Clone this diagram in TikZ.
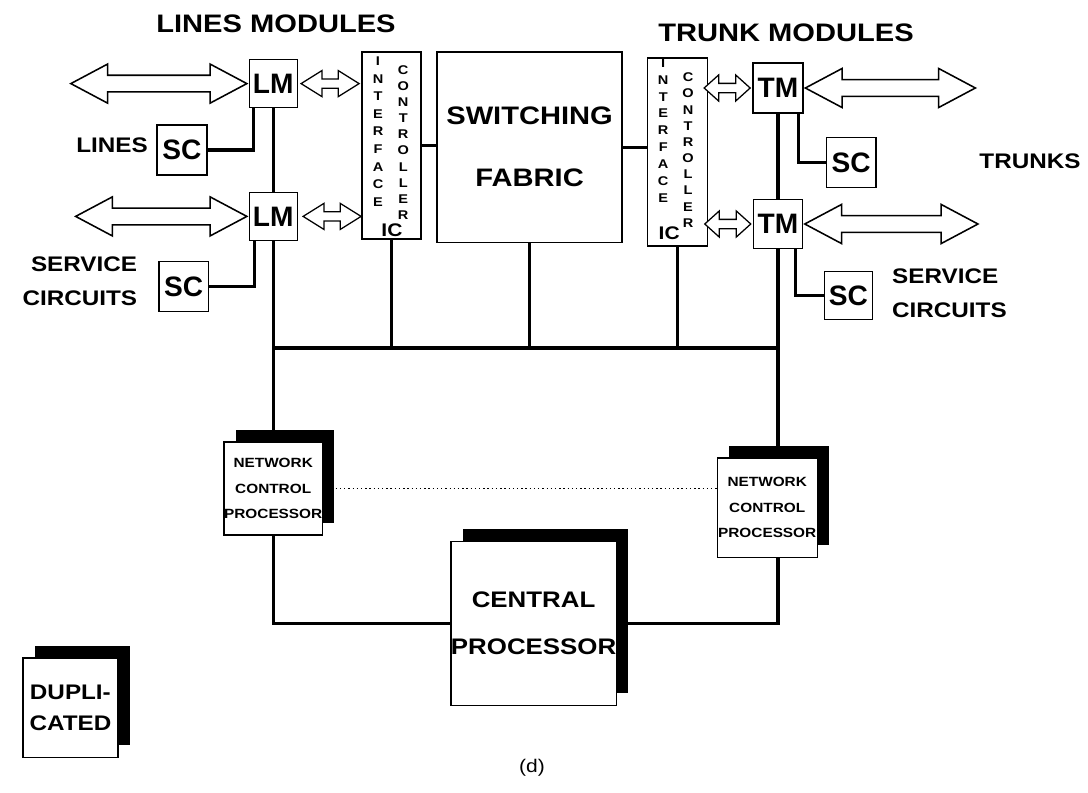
\documentclass[tikz,border=0pt]{standalone}
\usepackage{fontspec}
\setmainfont[FakeStretch=1.15]{Liberation Sans}
\newfontfamily\boxfont{Liberation Sans}
\usetikzlibrary{shapes.arrows, shadows, positioning}

\begin{document}
\begin{tikzpicture}[
    box/.style={rectangle, draw, line width=1pt, fill=white, inner sep=0pt, align=center, font=\bfseries\fontsize{18}{44}\selectfont},
    module/.style={rectangle, draw, line width=1pt, fill=white, inner sep=0pt, minimum size=1.2cm, font=\boxfont\bfseries\fontsize{20}{24}\selectfont},
    proc/.style={rectangle, draw, line width=1pt, fill=white, inner sep=0pt, align=center, general shadow={fill=black, shadow xshift=0.3cm, shadow yshift=0.3cm}},
    bigarrow/.style={double arrow, draw, line width=1.1pt, fill=white, inner xsep=0pt, inner ysep=0.19cm, minimum width=0.95cm, double arrow head extend=0.28cm, double arrow tip angle=56},
    smallarrow/.style={double arrow, draw, line width=0.9pt, fill=white, inner xsep=0pt, inner ysep=0.1cm, minimum width=0.62cm, double arrow head extend=0.21cm, double arrow tip angle=64},
    vlet/.style={align=center, inner sep=0pt, font=\bfseries\fontsize{9}{12.5}\selectfont},
    link/.style={line width=2.2pt},
    lbl/.style={font=\bfseries\fontsize{18}{22}\selectfont},
    sidelbl/.style={font=\bfseries\fontsize{15}{24}\selectfont}
]
    \path[fill=white] (0,0) rectangle (27.2,-19.8);
    \useasboundingbox (0,0) rectangle (27.2,-19.8);

    % Headings
    \node[lbl] (linesmod) at (6.9,-0.6) {LINES MODULES};
    \node[lbl] (trunkmod) at (19.65,-0.83) {TRUNK MODULES};
    \node[sidelbl] (lines) at (2.8,-3.63) {LINES};
    \node[sidelbl] (trunks) at (25.75,-4.03) {TRUNKS};
    \node[sidelbl, anchor=east, align=right] (servl) at (3.55,-7.03) {SERVICE\\CIRCUITS};
    \node[sidelbl, anchor=west, align=left] (servr) at (22.18,-7.33) {SERVICE\\CIRCUITS};

    % Line side
    \node[module] (lm1) at (6.83,-2.09) {LM};
    \node[module] (lm2) at (6.83,-5.41) {LM};
    \node[module, minimum size=1.24cm] (sc1) at (4.55,-3.75) {SC};
    \node[module, minimum size=1.24cm] (sc2) at (4.59,-7.16) {SC};
    \node[bigarrow, minimum height=4.4cm, left=0pt of lm1] (lin1) {};
    \node[bigarrow, minimum height=4.28cm, left=0pt of lm2] (lin2) {};
    \node[smallarrow, minimum height=1.45cm, right=0.05cm of lm1] (lic1) {};
    \node[smallarrow, minimum height=1.45cm, right=0.1cm of lm2] (lic2) {};

    % Interface controllers and fabric
    \node[box, minimum width=1.475cm, minimum height=4.675cm] (icl) at (9.79,-3.64) {};
    \node[vlet] at (9.45,-3.29) {I\\N\\T\\E\\R\\F\\A\\C\\E};
    \node[vlet, font=\bfseries\fontsize{9}{11.5}\selectfont] at (10.08,-3.56) {C\\O\\N\\T\\R\\O\\L\\L\\E\\R};
    \node[font=\bfseries\fontsize{13}{15}\selectfont, inner sep=0pt] (iclname) at (9.8,-5.75) {IC};
    \node[box, minimum width=4.625cm, minimum height=4.75cm] (sf) at (13.24,-3.68) {SWITCHING\\FABRIC};
    \node[box, minimum width=1.5cm, minimum height=4.7cm] (icr) at (16.93,-3.8) {};
    \node[vlet, font=\bfseries\fontsize{9}{12}\selectfont] at (16.58,-3.26) {I\\N\\T\\E\\R\\F\\A\\C\\E};
    \node[vlet, font=\bfseries\fontsize{9}{11.5}\selectfont] at (17.2,-3.75) {C\\O\\N\\T\\R\\O\\L\\L\\E\\R};
    \node[font=\bfseries\fontsize{13}{15}\selectfont, inner sep=0pt] (icrname) at (16.73,-5.83) {IC};

    % Trunk side
    \node[module, minimum size=1.25cm] (tm1) at (19.45,-2.2) {TM};
    \node[module, minimum size=1.22cm] (tm2) at (19.45,-5.6) {TM};
    \node[module, minimum size=1.24cm] (scr1) at (21.28,-4.06) {SC};
    \node[module, minimum size=1.2cm] (scr2) at (21.21,-7.39) {SC};
    \node[bigarrow, minimum height=4.25cm, right=0pt of tm1] (tin1) {};
    \node[bigarrow, minimum height=4.33cm, right=0pt of tm2] (tin2) {};
    \node[smallarrow, double arrow tip angle=84, minimum height=1.15cm, left=0.03cm of tm1] (tic1) {};
    \node[smallarrow, double arrow tip angle=84, minimum height=1.15cm, left=0.03cm of tm2] (tic2) {};

    % Processors (duplicated)
    \node[proc, minimum width=2.3cm, minimum height=2.33cm, font=\bfseries\fontsize{9.5}{18}\selectfont] (ncpl) at (6.83,-12.21) {NETWORK\\CONTROL\\PROCESSOR};
    \node[proc, minimum width=2.5cm, minimum height=2.48cm, font=\bfseries\fontsize{9.5}{18}\selectfont] (ncpr) at (19.18,-12.69) {NETWORK\\CONTROL\\PROCESSOR};
    \node[proc, minimum width=4.08cm, minimum height=4.1cm, font=\bfseries\fontsize{16}{33}\selectfont] (cp) at (13.34,-15.58) {CENTRAL\\PROCESSOR};
    \node[proc, minimum width=2.38cm, minimum height=2.48cm, font=\bfseries\fontsize{15}{22}\selectfont] (dup) at (1.76,-17.69) {DUPLI-\\CATED};
    \node[font=\fontsize{13}{15}\selectfont] (caption) at (13.3,-19.2) {(d)};

    % Connections
    \draw[link] (lm1) -- (lm2);
    \draw[link] (sc1) -| ([xshift=0.12cm]lm1.south west);
    \draw[link] (sc2) -| ([xshift=0.15cm]lm2.south west);
    \draw[link] (lm2) -- (ncpl);
    \draw[link] (tm1) -- (tm2);
    \draw[link] ([xshift=-0.12cm]tm1.south east) |- (scr1);
    \draw[link] ([xshift=-0.2cm]tm2.south east) |- (scr2);
    \draw[link] (tm2) -- (tm2 |- ncpr.north);
    \draw[link] (icl) -- (icl -| sf.west);
    \draw[link] (sf) -- (sf -| icr.west);

    % Bus
    \coordinate (busl) at (6.83,-8.7);
    \coordinate (busr) at (19.45,-8.7);
    \draw[link] (busl) -- (busr);
    \draw[link] (icl) -- (icl |- busl);
    \draw[link] (sf) -- (sf |- busl);
    \draw[link] (icr) -- (icr |- busl);

    % Processor links
    \draw[link] (ncpl) |- (cp);
    \draw[link] (ncpr.south -| tm2) |- (cp);
    \draw[dotted, line width=1pt] (ncpl.east) -- (ncpl.east -| ncpr.west);
\end{tikzpicture}
\end{document}
